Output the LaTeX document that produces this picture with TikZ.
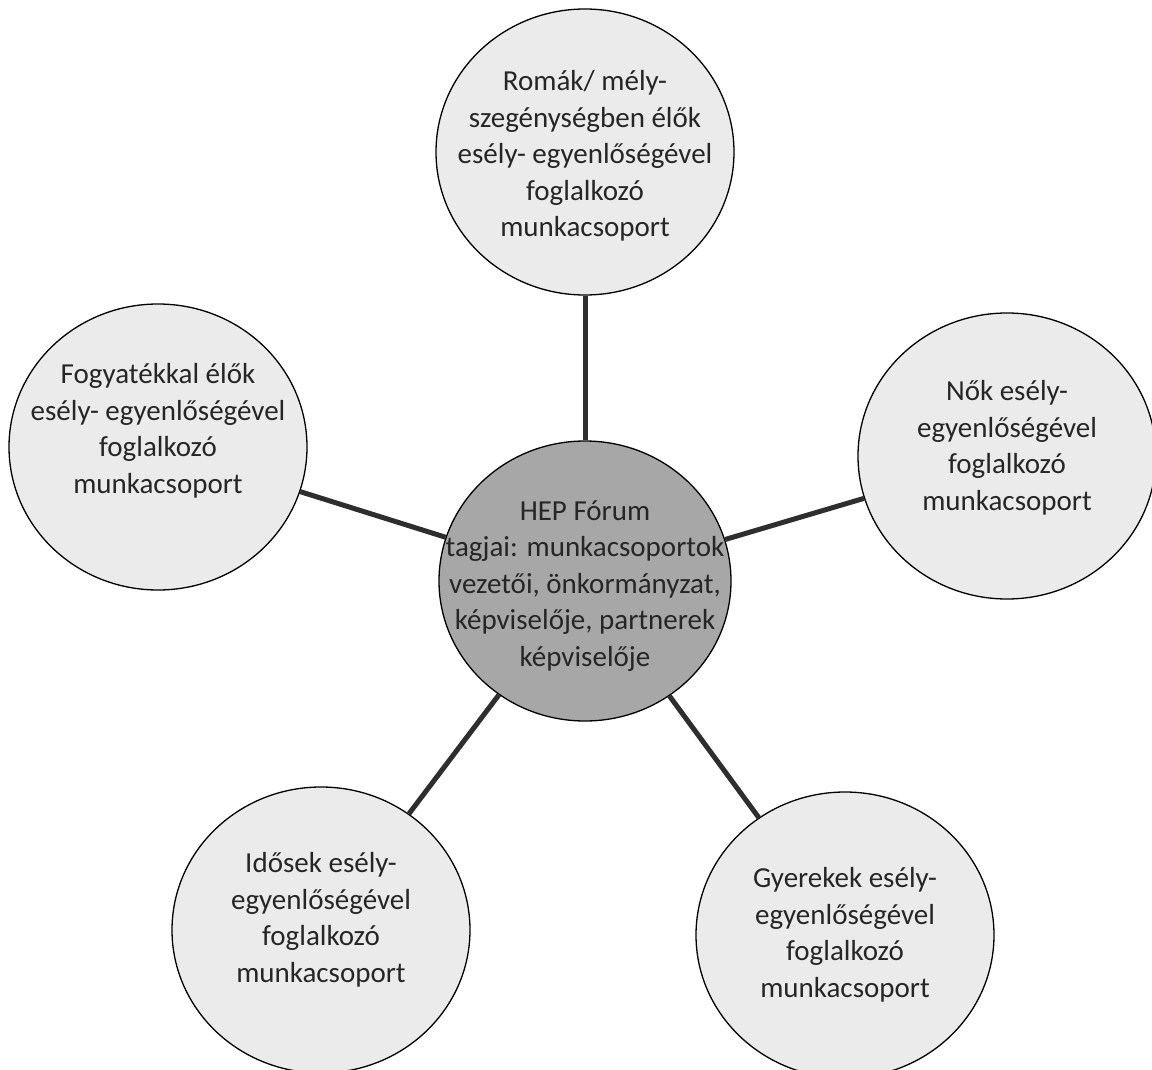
\documentclass[tikz,border=0pt]{standalone}
\usepackage{fontspec}
\setmainfont{Carlito}
\usetikzlibrary{shapes.geometric}
\definecolor{outerfill}{HTML}{EBEBEB}
\definecolor{hubfill}{HTML}{A7A7A7}
\definecolor{textcol}{HTML}{262626}
\definecolor{linkcol}{HTML}{2E2E2E}
\begin{document}
\begin{tikzpicture}[x=1pt,y=-1pt,
  outer/.style={ellipse, draw=black, line width=1.3pt, fill=outerfill, minimum width=298pt, minimum height=286pt, inner sep=0pt},
  hub/.style={outer, fill=hubfill, minimum width=292pt, minimum height=280pt},
  label text/.style={align=center, text=textcol, inner sep=0pt, font=\fontsize{29}{36.5}\selectfont},
  link/.style={draw=linkcol, line width=5pt}]
\useasboundingbox (0,0) rectangle (1152,1070);
\fill[white] (0,0) rectangle (1152,1070);
\node[outer] (T) at (585,152) {};
\node[outer] (L) at (158,447) {};
\node[outer] (R) at (1007,456) {};
\node[hub] (C) at (585,581) {};
\node[outer] (BL) at (321,930) {};
\node[outer] (BR) at (845,935) {};
\draw[link] (C) -- (T);
\draw[link] (C) -- (L);
\draw[link] (C) -- (R);
\draw[link] (C) -- (BL);
\draw[link] (C) -- (BR);
\node[label text] (tT) at ([yshift=-4pt]T.center) {Romák/ mély-\\szegénységben élők\\esély- egyenlőségével\\foglalkozó\\munkacsoport};
\node[label text] (tL) at ([yshift=16pt]L.center) {Fogyatékkal élők\\esély- egyenlőségével\\foglalkozó\\munkacsoport};
\node[label text] (tR) at ([yshift=8pt]R.center) {Nők esély-\\egyenlőségével\\foglalkozó\\munkacsoport};
\node[label text] (tC) at ([yshift=-5pt]C.center) {HEP Fórum\\tagjai: munkacsoportok\\vezetői, önkormányzat,\\képviselője, partnerek\\képviselője};
\node[label text] (tBL) at ([yshift=10pt]BL.center) {Idősek esély-\\egyenlőségével\\foglalkozó\\munkacsoport};
\node[label text] (tBR) at (BR.center) {Gyerekek esély-\\egyenlőségével\\foglalkozó\\munkacsoport};
\end{tikzpicture}
\end{document}
